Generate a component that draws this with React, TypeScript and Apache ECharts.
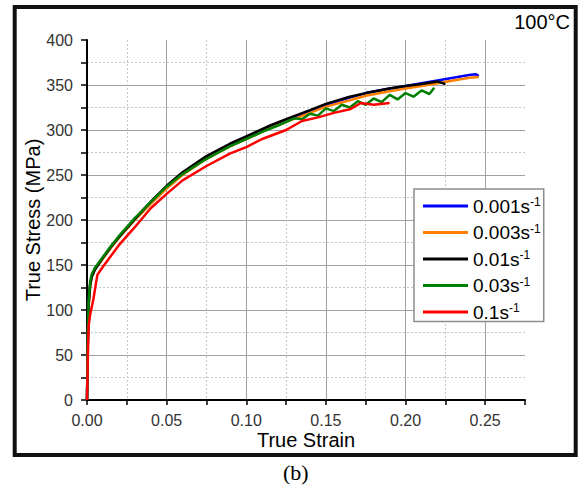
import React, { useEffect, useRef } from "react";
import * as echarts from "echarts";

const seriesNames = ["0.001s-1", "0.003s-1", "0.01s-1", "0.03s-1", "0.1s-1"];
const seriesColors = ["#0000ff", "#ff8000", "#000000", "#008000", "#ff0000"];

const strain001 = [0, 0.0005, 0.001, 0.002, 0.003, 0.005, 0.01, 0.015, 0.02, 0.03, 0.04, 0.05, 0.06, 0.075, 0.09, 0.1, 0.115, 0.125, 0.14, 0.15, 0.165, 0.175, 0.19, 0.2, 0.21, 0.22, 0.23, 0.24, 0.244, 0.246];
const stress001 = [0, 65, 108, 129, 138, 146, 158, 170, 181, 201, 220, 237, 252, 270, 284, 292, 304, 311, 321, 328, 336, 341, 346, 349, 352, 355, 358, 361, 362, 360];

const strain003 = [0, 0.0005, 0.001, 0.002, 0.003, 0.005, 0.01, 0.015, 0.02, 0.03, 0.04, 0.05, 0.06, 0.075, 0.09, 0.1, 0.115, 0.125, 0.14, 0.15, 0.165, 0.175, 0.19, 0.2, 0.21, 0.22, 0.23, 0.24, 0.246];
const stress003 = [0, 62, 104, 127, 137, 145, 157, 169, 180, 200, 218, 235, 250, 268, 282, 290, 302, 309, 319, 326, 333, 338, 343, 346, 349, 352, 355, 358, 359];

const strain01 = [0, 0.0005, 0.001, 0.002, 0.003, 0.005, 0.01, 0.015, 0.02, 0.03, 0.04, 0.05, 0.06, 0.075, 0.09, 0.1, 0.115, 0.125, 0.14, 0.15, 0.165, 0.175, 0.19, 0.2, 0.21, 0.22, 0.225];
const stress01 = [0, 60, 105, 128, 137, 145, 158, 170, 181, 201, 220, 238, 253, 271, 285, 293, 305, 312, 322, 329, 337, 341, 346, 349, 351, 354, 351];

const strain03 = [0, 0.0005, 0.001, 0.002, 0.003, 0.005, 0.01, 0.015, 0.02, 0.03, 0.04, 0.05, 0.06, 0.075, 0.09, 0.1, 0.11, 0.12, 0.13, 0.135, 0.14, 0.145, 0.15, 0.155, 0.16, 0.165, 0.17, 0.175, 0.18, 0.185, 0.19, 0.195, 0.2, 0.205, 0.21, 0.215, 0.218];
const stress03 = [0, 70, 110, 132, 140, 147, 159, 171, 182, 202, 220, 237, 251, 268, 282, 290, 298, 305, 313, 312, 318, 316, 324, 321, 328, 325, 332, 328, 335, 331, 339, 334, 341, 337, 344, 340, 347];

const strain1 = [0, 0.0005, 0.001, 0.002, 0.004, 0.0065, 0.01, 0.015, 0.02, 0.03, 0.04, 0.05, 0.06, 0.075, 0.09, 0.1, 0.11, 0.125, 0.135, 0.145, 0.155, 0.165, 0.172, 0.18, 0.19];
const stress1 = [0, 45, 82, 95, 112, 139, 148, 160, 172, 192, 213, 229, 244, 260, 274, 281, 290, 300, 310, 314, 319, 323, 330, 328, 330];

const strains = [strain001, strain003, strain01, strain03, strain1];
const stresses = [stress001, stress003, stress01, stress03, stress1];

const xTickCount = 12; // 0 .. 0.275 step 0.025
const yTickCount = 17; // 0 .. 400 step 25

export default function App() {
  const ref = useRef<HTMLDivElement>(null);
  useEffect(() => {
    if (!ref.current) return;
    const chart = echarts.init(ref.current, null, { renderer: "svg" });
    const font = "Liberation Sans, Arial, sans-serif";
    const majorGrid = "#a0a0a0";
    const minorGrid = "#c4c4c4";
    const xMajorColors = Array.from({ length: xTickCount }, (_, i) =>
      i % 2 === 0 && i !== xTickCount - 1 ? majorGrid : "rgba(0,0,0,0)"
    );
    const xMinorColors = Array.from({ length: xTickCount }, (_, i) =>
      i % 2 === 1 && i !== xTickCount - 1 ? minorGrid : "rgba(0,0,0,0)"
    );
    const yMajorColors = Array.from({ length: yTickCount }, (_, i) =>
      i % 2 === 0 && i !== yTickCount - 1 ? majorGrid : "rgba(0,0,0,0)"
    );
    const yMinorColors = Array.from({ length: yTickCount }, (_, i) =>
      i % 2 === 1 && i !== yTickCount - 1 ? minorGrid : "rgba(0,0,0,0)"
    );

    const option: any = {
      animation: false,
      backgroundColor: "#ffffff",
      textStyle: { fontFamily: font },
      grid: { left: 87, right: 54, top: 40, bottom: 87, containLabel: false },
      xAxis: [
        {
          type: "value",
          min: 0,
          max: 0.275,
          interval: 0.025,
          name: "True Strain",
          nameLocation: "middle",
          nameGap: 30,
          nameMoveOverlap: false,
          nameTextStyle: { fontSize: 20, color: "#000", fontFamily: font },
          axisLine: { show: true, lineStyle: { color: "#000", width: 2 } },
          axisTick: { show: true, length: 5, lineStyle: { color: "#000", width: 1.5 } },
          axisLabel: {
            fontSize: 16,
            color: "#333",
            margin: 12,
            fontFamily: font,
            formatter: (v: number) => (Math.round(v * 1000) % 50 === 0 ? v.toFixed(2) : ""),
          },
          splitLine: { show: true, lineStyle: { color: xMajorColors, width: 1, type: "solid" } },
        },
        {
          type: "value",
          min: 0,
          max: 0.275,
          interval: 0.025,
          position: "bottom",
          axisLine: { show: false },
          axisTick: { show: false },
          axisLabel: { show: false },
          splitLine: { show: true, lineStyle: { color: xMinorColors, width: 1, type: [2, 2] } },
        },
      ],
      yAxis: [
        {
          type: "value",
          min: 0,
          max: 400,
          interval: 25,
          name: "True Stress (MPa)",
          nameLocation: "middle",
          nameGap: 44,
          nameMoveOverlap: false,
          nameTextStyle: { fontSize: 20, color: "#000", fontFamily: font },
          axisLine: { show: true, lineStyle: { color: "#000", width: 2 } },
          axisTick: { show: true, length: 6, lineStyle: { color: "#000", width: 1.5 } },
          axisLabel: {
            fontSize: 16,
            color: "#333",
            margin: 14,
            fontFamily: font,
            formatter: (v: number) => (Math.round(v) % 50 === 0 ? String(v) : ""),
          },
          splitLine: { show: true, lineStyle: { color: yMajorColors, width: 1, type: "solid" } },
        },
        {
          type: "value",
          min: 0,
          max: 400,
          interval: 25,
          position: "left",
          axisLine: { show: false },
          axisTick: { show: false },
          axisLabel: { show: false },
          splitLine: { show: true, lineStyle: { color: yMinorColors, width: 1, type: [2, 2] } },
        },
      ],
      legend: {
        show: true,
        orient: "vertical",
        left: 414,
        top: 189,
        padding: [7, 3, 0, 9],
        itemGap: 7,
        itemWidth: 45,
        itemHeight: 3,
        icon: "rect",
        borderColor: "#8c8c8c",
        borderWidth: 1.5,
        backgroundColor: "#ffffff",
        data: seriesNames,
        formatter: (name: string) => {
          const base = name.replace("s-1", "s");
          return `{b|${base}}{sup|-1}`;
        },
        textStyle: {
          fontFamily: font,
          color: "#000",
          rich: {
            b: { fontSize: 19, lineHeight: 20, fontFamily: font, color: "#000" },
            sup: { fontSize: 12, lineHeight: 11, verticalAlign: "top", fontFamily: font, color: "#000" },
          },
        },
      },
      graphic: [
        {
          type: "rect",
          shape: { x: 14.7, y: 7, width: 561, height: 448 },
          style: { fill: "none", stroke: "#111", lineWidth: 4 },
          silent: true,
          z: 100,
        },
        {
          type: "text",
          right: 9,
          top: 12,
          style: { text: "100°C", fontSize: 20, fontFamily: font, fill: "#000" },
        },
        {
          type: "text",
          left: 283,
          top: 461,
          style: { text: "(b)", fontSize: 22, fontFamily: "Liberation Serif, Times New Roman, serif", fill: "#000" },
        },
      ],
      series: seriesNames.map((name, k) => ({
        name,
        type: "line",
        xAxisIndex: 0,
        yAxisIndex: 0,
        showSymbol: false,
        symbol: "none",
        color: seriesColors[k],
        lineStyle: { color: seriesColors[k], width: 2.5 },
        data: strains[k].map((s, i) => [s, stresses[k][i]]),
        z: 3 + k,
      })),
    };
    chart.setOption(option);
    return () => chart.dispose();
  }, []);
  return (
    <div
      ref={ref}
      style={{ position: "absolute", left: 0, top: 0, width: 579, height: 487, background: "#fff" }}
    />
  );
}
